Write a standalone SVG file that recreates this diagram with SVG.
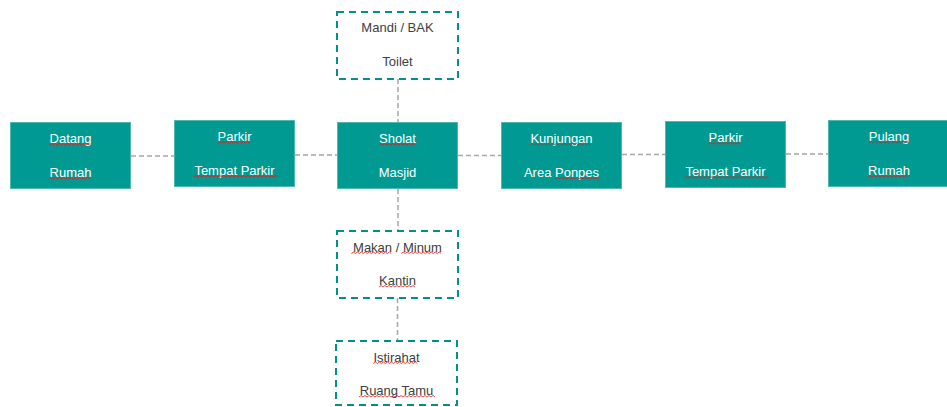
<svg xmlns="http://www.w3.org/2000/svg" width="947" height="407" viewBox="0 0 947 407">
<style>
.solid{fill:#009a93;stroke:#4fb8b1;stroke-width:1}
.dash{fill:#ffffff;stroke:#00918a;stroke-width:2;stroke-dasharray:7 5}
.wt{font-family:"Liberation Sans",Arial,sans-serif;font-size:13px;fill:#ffffff;text-anchor:middle}
.dt{font-family:"Liberation Sans",Arial,sans-serif;font-size:13px;fill:#404040;text-anchor:middle}
.conn{stroke:#a6a6a6;stroke-width:1.5;stroke-dasharray:5 3;fill:none}
.sq{stroke:#d02020;stroke-width:0.8;fill:none}
</style>
<rect width="947" height="407" fill="#ffffff"/>
<g id="connectors">
<line class="conn" x1="131" y1="156" x2="174" y2="156"/>
<line class="conn" x1="295" y1="155" x2="337" y2="155"/>
<line class="conn" x1="458" y1="155.5" x2="501" y2="155.5"/>
<line class="conn" x1="622" y1="154.5" x2="665" y2="154.5"/>
<line class="conn" x1="786" y1="154" x2="828" y2="154"/>
<line class="conn" x1="398" y1="79" x2="398" y2="122"/>
<line class="conn" x1="398" y1="189" x2="398" y2="231"/>
<line class="conn" x1="397.5" y1="298" x2="397.5" y2="341"/>
</g>
<g id="node-datang">
<rect class="solid" x="10.5" y="122.5" width="120" height="66"/>
<text class="wt" x="70.5" y="143">Datang</text>
<text class="wt" x="70.5" y="177">Rumah</text>
</g>
<g id="node-parkir1">
<rect class="solid" x="174.5" y="120.5" width="120" height="66"/>
<text class="wt" x="234.5" y="141">Parkir</text>
<text class="wt" x="234.5" y="175">Tempat Parkir</text>
</g>
<g id="node-sholat">
<rect class="solid" x="337.5" y="122.5" width="120" height="66"/>
<text class="wt" x="397.5" y="143">Sholat</text>
<text class="wt" x="397.5" y="177">Masjid</text>
</g>
<g id="node-mandi">
<rect class="dash" x="337" y="12" width="121" height="67"/>
<text class="dt" x="397.5" y="32">Mandi / BAK</text>
<text class="dt" x="397.5" y="66">Toilet</text>
</g>
<g id="node-makan">
<rect class="dash" x="337" y="231" width="121" height="67"/>
<text class="dt" x="397.5" y="251.5">Makan / Minum</text>
<text class="dt" x="397.5" y="285">Kantin</text>
</g>
<g id="node-istirahat">
<rect class="dash" x="336" y="341" width="121" height="64"/>
<text class="dt" x="396.5" y="361.5">Istirahat</text>
<text class="dt" x="396.5" y="395">Ruang Tamu</text>
</g>
<g id="node-kunjungan">
<rect class="solid" x="501.5" y="122.5" width="120" height="66"/>
<text class="wt" x="561.5" y="143">Kunjungan</text>
<text class="wt" x="561.5" y="177">Area Ponpes</text>
</g>
<g id="node-parkir2">
<rect class="solid" x="665.5" y="121.5" width="120" height="66"/>
<text class="wt" x="725.5" y="142">Parkir</text>
<text class="wt" x="725.5" y="176">Tempat Parkir</text>
</g>
<g id="node-pulang">
<rect class="solid" x="828.5" y="120.5" width="124" height="66"/>
<text class="wt" x="889" y="141">Pulang</text>
<text class="wt" x="889" y="175">Rumah</text>
</g>
<g id="spellcheck">
<path class="sq" d="M49.5 145 l2 -1.5 l2 1.5 l2 -1.5 l2 1.5 l2 -1.5 l2 1.5 l2 -1.5 l2 1.5 l2 -1.5 l2 1.5 l2 -1.5 l2 1.5 l2 -1.5 l2 1.5 l2 -1.5 l2 1.5 l2 -1.5 l2 1.5 l2 -1.5 l2 1.5"/>
<path class="sq" d="M49.5 179 l2 -1.5 l2 1.5 l2 -1.5 l2 1.5 l2 -1.5 l2 1.5 l2 -1.5 l2 1.5 l2 -1.5 l2 1.5 l2 -1.5 l2 1.5 l2 -1.5 l2 1.5 l2 -1.5 l2 1.5 l2 -1.5 l2 1.5 l2 -1.5 l2 1.5"/>
<path class="sq" d="M217.5 143 l2 -1.5 l2 1.5 l2 -1.5 l2 1.5 l2 -1.5 l2 1.5 l2 -1.5 l2 1.5 l2 -1.5 l2 1.5 l2 -1.5 l2 1.5 l2 -1.5 l2 1.5 l2 -1.5 l2 1.5"/>
<path class="sq" d="M193.7 177 l2 -1.5 l2 1.5 l2 -1.5 l2 1.5 l2 -1.5 l2 1.5 l2 -1.5 l2 1.5 l2 -1.5 l2 1.5 l2 -1.5 l2 1.5 l2 -1.5 l2 1.5 l2 -1.5 l2 1.5 l2 -1.5 l2 1.5 l2 -1.5 l2 1.5 l2 -1.5 l2 1.5 l2 -1.5 l2 1.5 l2 -1.5 l2 1.5 l2 -1.5 l2 1.5 l2 -1.5 l2 1.5 l2 -1.5 l2 1.5 l2 -1.5 l2 1.5 l2 -1.5 l2 1.5 l2 -1.5 l2 1.5 l2 -1.5 l2 1.5 l2 -1.5 l2 1.5"/>
<path class="sq" d="M379 145 l2 -1.5 l2 1.5 l2 -1.5 l2 1.5 l2 -1.5 l2 1.5 l2 -1.5 l2 1.5 l2 -1.5 l2 1.5 l2 -1.5 l2 1.5 l2 -1.5 l2 1.5 l2 -1.5 l2 1.5 l2 -1.5 l2 1.5"/>
<path class="sq" d="M351.3 253.5 l2 -1.5 l2 1.5 l2 -1.5 l2 1.5 l2 -1.5 l2 1.5 l2 -1.5 l2 1.5 l2 -1.5 l2 1.5 l2 -1.5 l2 1.5 l2 -1.5 l2 1.5 l2 -1.5 l2 1.5 l2 -1.5 l2 1.5 l2 -1.5 l2 1.5"/>
<path class="sq" d="M401.2 253.5 l2 -1.5 l2 1.5 l2 -1.5 l2 1.5 l2 -1.5 l2 1.5 l2 -1.5 l2 1.5 l2 -1.5 l2 1.5 l2 -1.5 l2 1.5 l2 -1.5 l2 1.5 l2 -1.5 l2 1.5 l2 -1.5 l2 1.5 l2 -1.5 l2 1.5"/>
<path class="sq" d="M379 287 l2 -1.5 l2 1.5 l2 -1.5 l2 1.5 l2 -1.5 l2 1.5 l2 -1.5 l2 1.5 l2 -1.5 l2 1.5 l2 -1.5 l2 1.5 l2 -1.5 l2 1.5 l2 -1.5 l2 1.5 l2 -1.5 l2 1.5"/>
<path class="sq" d="M373.4 363.5 l2 -1.5 l2 1.5 l2 -1.5 l2 1.5 l2 -1.5 l2 1.5 l2 -1.5 l2 1.5 l2 -1.5 l2 1.5 l2 -1.5 l2 1.5 l2 -1.5 l2 1.5 l2 -1.5 l2 1.5 l2 -1.5 l2 1.5 l2 -1.5 l2 1.5 l2 -1.5 l2 1.5"/>
<path class="sq" d="M359 397 l2 -1.5 l2 1.5 l2 -1.5 l2 1.5 l2 -1.5 l2 1.5 l2 -1.5 l2 1.5 l2 -1.5 l2 1.5 l2 -1.5 l2 1.5 l2 -1.5 l2 1.5 l2 -1.5 l2 1.5 l2 -1.5 l2 1.5 l2 -1.5 l2 1.5 l2 -1.5 l2 1.5 l2 -1.5 l2 1.5 l2 -1.5 l2 1.5 l2 -1.5 l2 1.5 l2 -1.5 l2 1.5 l2 -1.5 l2 1.5 l2 -1.5 l2 1.5 l2 -1.5 l2 1.5 l2 -1.5 l2 1.5"/>
<path class="sq" d="M530.4 145 l2 -1.5 l2 1.5 l2 -1.5 l2 1.5 l2 -1.5 l2 1.5 l2 -1.5 l2 1.5 l2 -1.5 l2 1.5 l2 -1.5 l2 1.5 l2 -1.5 l2 1.5 l2 -1.5 l2 1.5 l2 -1.5 l2 1.5 l2 -1.5 l2 1.5 l2 -1.5 l2 1.5 l2 -1.5 l2 1.5 l2 -1.5 l2 1.5 l2 -1.5 l2 1.5 l2 -1.5 l2 1.5"/>
<path class="sq" d="M555 179 l2 -1.5 l2 1.5 l2 -1.5 l2 1.5 l2 -1.5 l2 1.5 l2 -1.5 l2 1.5 l2 -1.5 l2 1.5 l2 -1.5 l2 1.5 l2 -1.5 l2 1.5 l2 -1.5 l2 1.5 l2 -1.5 l2 1.5 l2 -1.5 l2 1.5 l2 -1.5 l2 1.5"/>
<path class="sq" d="M708.5 144 l2 -1.5 l2 1.5 l2 -1.5 l2 1.5 l2 -1.5 l2 1.5 l2 -1.5 l2 1.5 l2 -1.5 l2 1.5 l2 -1.5 l2 1.5 l2 -1.5 l2 1.5 l2 -1.5 l2 1.5"/>
<path class="sq" d="M684.7 178 l2 -1.5 l2 1.5 l2 -1.5 l2 1.5 l2 -1.5 l2 1.5 l2 -1.5 l2 1.5 l2 -1.5 l2 1.5 l2 -1.5 l2 1.5 l2 -1.5 l2 1.5 l2 -1.5 l2 1.5 l2 -1.5 l2 1.5 l2 -1.5 l2 1.5 l2 -1.5 l2 1.5 l2 -1.5 l2 1.5 l2 -1.5 l2 1.5 l2 -1.5 l2 1.5 l2 -1.5 l2 1.5 l2 -1.5 l2 1.5 l2 -1.5 l2 1.5 l2 -1.5 l2 1.5 l2 -1.5 l2 1.5 l2 -1.5 l2 1.5 l2 -1.5 l2 1.5"/>
<path class="sq" d="M868.8 143 l2 -1.5 l2 1.5 l2 -1.5 l2 1.5 l2 -1.5 l2 1.5 l2 -1.5 l2 1.5 l2 -1.5 l2 1.5 l2 -1.5 l2 1.5 l2 -1.5 l2 1.5 l2 -1.5 l2 1.5 l2 -1.5 l2 1.5 l2 -1.5 l2 1.5"/>
<path class="sq" d="M868 177 l2 -1.5 l2 1.5 l2 -1.5 l2 1.5 l2 -1.5 l2 1.5 l2 -1.5 l2 1.5 l2 -1.5 l2 1.5 l2 -1.5 l2 1.5 l2 -1.5 l2 1.5 l2 -1.5 l2 1.5 l2 -1.5 l2 1.5 l2 -1.5 l2 1.5"/>
</g>
</svg>
